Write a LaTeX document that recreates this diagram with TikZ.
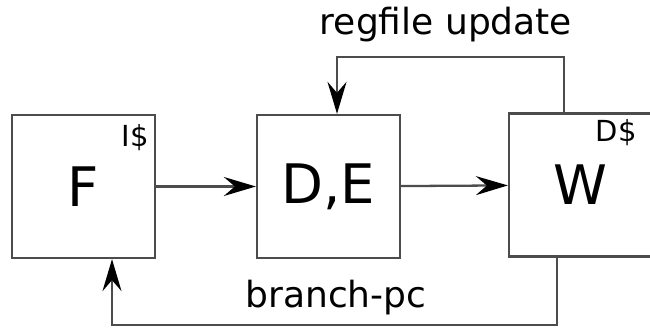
\documentclass[tikz,border=0pt]{standalone}
\usepackage{fontspec}
\setmainfont{DejaVu Sans}
\usetikzlibrary{arrows.meta}

\begin{document}
\begin{tikzpicture}[
    stage/.style={draw=black!70, line width=1.3pt, minimum size=2.86cm, inner sep=0pt, font=\fontsize{31}{36}\selectfont},
    cache/.style={font=\fontsize{16.5}{20}\selectfont, inner sep=0pt, anchor=base east},
    wire/.style={draw=black!70, line width=1.3pt, -{Stealth[length=0.64cm, width=0.38cm, inset=0.22cm, color=black]}},
    label/.style={font=\fontsize{20.5}{24}\selectfont, inner sep=0pt, anchor=base}
]
                \useasboundingbox (0, 0) rectangle (13, 6.56);

                % Stages
                \node[stage] (F) at (1.67, 2.83) {F};      % Fetch
                \node[stage] (DE) at (6.57, 2.83) {D,E};   % Decode, execute
                \node[stage] (W) at (11.61, 2.86) {W};     % Writeback

                % Caches
                \node[cache] (icache) at (2.98, 3.62) {I\$};
                \node[cache] (dcache) at (12.74, 3.72) {D\$};

                % Corners of the feedback paths
                \coordinate (regup) at (11.28, 5.42);
                \coordinate (regdown) at (6.74, 5.42);
                \coordinate (pcdown) at (11.14, 0.06);
                \coordinate (pcup) at (2.24, 0.06);

                % Pipeline
                \draw[wire] (F) -- (DE);
                \draw[wire] (DE) -- (W);

                % Feedback
                \draw[wire] (W.north -| regup) -- (regup) -- (regdown) -- (regdown |- DE.north);
                \draw[wire] (W.south -| pcdown) -- (pcdown) -- (pcup) -- (pcup |- F.south);

                % Labels
                \node[label] (regfile) at (8.92, 5.86) {regfile update};
                \node[label] (branch) at (6.72, 0.40) {branch-pc};
            \end{tikzpicture}
\end{document}
